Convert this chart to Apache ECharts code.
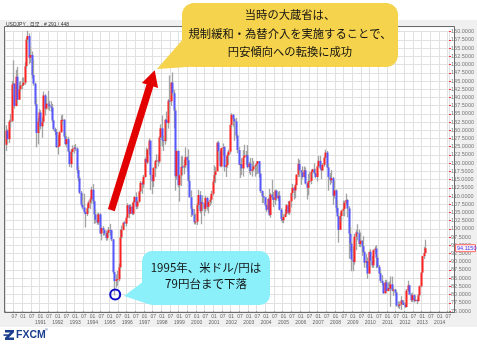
<!DOCTYPE html>
<html><head><meta charset="utf-8">
<script src="https://cdn.jsdelivr.net/npm/echarts@6/dist/echarts.min.js"></script>
<style>html,body{margin:0;padding:0;background:#fff}#wrap{position:relative;width:477px;height:345px}#c{width:477px;height:345px}
#hdr{position:absolute;left:6px;top:21px;font:5px 'Liberation Sans','Noto Sans CJK JP',sans-serif;color:#333;line-height:6px;white-space:nowrap;z-index:5}</style>
</head><body><div id="wrap"><div id="c"></div><div id="hdr"></div></div>
<script>
// ---- data: USD/JPY monthly, Jan 1989 .. Mar 2013 (291 bars) ----
const startYear = 1989;
const totalMonths = 307; // axis runs to mid 2014
const opens = [
125.6,129.9,127.3,132.6,132.9,143.9,144.2,137.4,146.3,139.3,142.5,143.6,
143.8,144.5,149.5,157.6,158.7,152.1,152.9,146.8,144.2,137.9,129.2,132.6,
135.4,131.2,132.6,140.6,136.6,138.1,137.8,137.3,136.9,133.0,130.4,129.5,
124.9,125.2,129.4,133.1,133.2,128.1,125.8,127.3,123.6,119.7,123.4,124.3,
124.7,124.4,117.9,115.4,111.0,107.4,106.5,105.1,104.5,106.3,108.0,109.0,
111.9,108.4,104.4,102.8,101.9,104.4,98.6,100.2,99.6,98.6,97.2,98.8,
99.7,99.6,96.8,86.8,84.1,84.6,84.7,88.3,97.4,99.7,101.9,101.6,
103.4,107.2,104.6,106.8,104.6,108.1,109.7,106.8,108.3,111.4,114.0,113.5,
115.8,121.2,120.2,124.1,126.8,116.4,114.5,118.5,120.6,120.8,120.5,127.8,
130.6,127.0,126.7,133.2,132.2,139.0,138.8,144.5,141.3,136.0,116.0,123.7,
113.3,116.3,118.9,118.8,119.3,121.8,120.9,114.6,109.6,106.1,104.3,102.1,
102.2,107.3,110.3,105.4,108.1,107.7,106.1,109.4,106.7,108.2,108.9,110.7,
114.4,116.4,117.5,126.2,123.6,119.1,124.6,124.9,118.8,119.4,122.4,123.5,
131.6,134.7,133.4,132.7,128.4,124.0,119.5,119.7,118.4,121.7,122.3,122.4,
118.8,119.9,117.6,118.1,119.0,119.3,119.8,120.6,116.8,111.5,110.0,109.6,
107.2,105.8,109.1,104.2,110.4,109.6,108.8,111.6,109.3,110.1,105.8,103.1,
102.6,103.6,104.6,107.2,104.9,108.4,110.9,112.5,111.7,113.3,116.5,119.8,
117.8,117.2,115.8,117.8,113.8,112.5,114.4,114.6,117.3,118.1,116.9,115.8,
119.0,120.7,118.4,117.8,119.5,121.7,123.2,118.7,115.8,114.8,115.4,110.1,
111.7,106.4,103.8,99.7,103.9,105.5,106.1,107.9,108.8,106.2,98.5,95.5,
90.7,89.9,97.6,98.9,98.6,95.4,96.4,94.7,93.0,89.7,90.2,86.4,
93.0,90.3,88.9,93.5,94.0,91.2,88.4,86.5,84.2,83.5,80.4,83.7,
81.1,82.0,81.8,83.1,81.2,81.5,80.6,76.7,76.6,77.0,78.2,77.6,
76.9,76.2,81.2,82.8,80.0,78.3,79.8,78.1,78.4,78.0,79.8,82.5,
86.7,91.7,92.6
];
const closes = [
129.9,127.3,132.6,132.9,143.9,144.2,137.4,146.3,139.3,142.5,143.6,143.8,
144.5,149.5,157.6,158.7,152.1,152.9,146.8,144.2,137.9,129.2,132.6,135.4,
131.2,132.6,140.6,136.6,138.1,137.8,137.3,136.9,133.0,130.4,129.5,124.9,
125.2,129.4,133.1,133.2,128.1,125.8,127.3,123.6,119.7,123.4,124.3,124.7,
124.4,117.9,115.4,111.0,107.4,106.5,105.1,104.5,106.3,108.0,109.0,111.9,
108.4,104.4,102.8,101.9,104.4,98.6,100.2,99.6,98.6,97.2,98.8,99.7,
99.6,96.8,86.8,84.1,84.6,84.7,88.3,97.4,99.7,101.9,101.6,103.4,
107.2,104.6,106.8,104.6,108.1,109.7,106.8,108.3,111.4,114.0,113.5,115.8,
121.2,120.2,124.1,126.8,116.4,114.5,118.5,120.6,120.8,120.5,127.8,130.6,
127.0,126.7,133.2,132.2,139.0,138.8,144.5,141.3,136.0,116.0,123.7,113.3,
116.3,118.9,118.8,119.3,121.8,120.9,114.6,109.6,106.1,104.3,102.1,102.2,
107.3,110.3,105.4,108.1,107.7,106.1,109.4,106.7,108.2,108.9,110.7,114.4,
116.4,117.5,126.2,123.6,119.1,124.6,124.9,118.8,119.4,122.4,123.5,131.6,
134.7,133.4,132.7,128.4,124.0,119.5,119.7,118.4,121.7,122.3,122.4,118.8,
119.9,117.6,118.1,119.0,119.3,119.8,120.6,116.8,111.5,110.0,109.6,107.2,
105.8,109.1,104.2,110.4,109.6,108.8,111.6,109.3,110.1,105.8,103.1,102.6,
103.6,104.6,107.2,104.9,108.4,110.9,112.5,111.7,113.3,116.5,119.8,117.8,
117.2,115.8,117.8,113.8,112.5,114.4,114.6,117.3,118.1,116.9,115.8,119.0,
120.7,118.4,117.8,119.5,121.7,123.2,118.7,115.8,114.8,115.4,110.1,111.7,
106.4,103.8,99.7,103.9,105.5,106.1,107.9,108.8,106.2,98.5,95.5,90.7,
89.9,97.6,98.9,98.6,95.4,96.4,94.7,93.0,89.7,90.2,86.4,93.0,
90.3,88.9,93.5,94.0,91.2,88.4,86.5,84.2,83.5,80.4,83.7,81.1,
82.0,81.8,83.1,81.2,81.5,80.6,76.7,76.6,77.0,78.2,77.6,76.9,
76.2,81.2,82.8,80.0,78.3,79.8,78.1,78.4,78.0,79.8,82.5,86.7,
91.7,92.6,94.115
];
const highs = [
131.5,130.3,133.2,135.0,145.0,151.3,144.3,148.4,149.3,144.7,145.0,146.0,
146.1,150.8,158.2,160.3,159.5,155.4,154.0,151.5,144.5,139.7,133.9,136.5,
136.1,133.9,141.8,141.0,140.0,142.0,139.0,138.8,138.0,133.3,130.8,130.3,
128.5,129.7,134.5,134.8,133.4,129.3,128.2,128.0,124.3,124.2,125.4,125.5,
125.8,124.8,119.2,116.1,111.5,110.6,110.7,105.6,107.5,108.6,109.6,112.8,
113.6,108.8,106.0,104.7,105.0,104.8,100.8,100.8,99.9,99.5,99.2,100.6,
101.5,99.5,96.9,87.0,86.1,87.2,89.4,99.9,101.0,101.9,102.4,104.1,
107.8,107.4,107.5,107.9,108.6,110.0,111.1,108.8,111.5,114.6,114.5,116.4,
121.7,124.7,124.4,127.5,127.1,116.5,118.8,121.0,122.7,122.6,128.2,131.8,
134.5,128.3,133.5,135.7,139.5,146.7,144.7,147.6,142.3,136.9,124.4,123.9,
116.7,122.1,122.1,121.0,124.8,122.2,124.2,116.3,111.7,107.0,106.0,104.6,
107.8,111.9,111.5,108.9,110.2,107.7,110.1,109.7,108.6,109.9,111.6,114.9,
119.3,118.8,126.5,126.8,124.2,124.7,126.0,125.2,122.1,122.9,124.1,131.8,
135.2,134.9,133.7,133.8,128.9,125.0,120.0,121.5,124.0,125.6,123.7,125.5,
120.4,121.6,121.6,120.6,119.5,120.3,120.6,120.5,117.2,111.7,110.9,109.8,
107.7,109.5,112.2,110.9,114.9,111.2,112.0,111.9,111.3,111.5,106.3,105.0,
104.4,106.0,107.5,108.4,108.6,111.0,113.7,112.8,113.8,116.6,121.4,121.0,
117.8,119.0,119.0,118.7,114.0,116.7,117.4,117.8,118.3,119.9,118.3,119.3,
122.2,122.2,118.5,120.0,122.0,124.1,123.7,119.8,117.0,117.9,115.8,114.6,
112.0,108.6,104.5,104.9,105.8,108.6,108.6,110.7,109.0,106.9,100.6,96.0,
94.6,98.5,99.7,101.4,99.8,98.9,96.5,97.8,93.4,92.3,91.3,93.1,
93.8,91.8,93.8,94.7,95.0,92.0,89.0,87.3,85.9,83.7,84.5,84.5,
83.7,84.0,85.5,85.5,82.2,81.7,81.1,77.9,77.9,79.5,78.3,78.3,
77.5,81.7,84.2,83.0,80.4,80.6,80.1,79.6,78.6,80.2,82.8,86.8,
91.8,94.5,96.7
];
const lows = [
123.7,125.9,126.1,130.8,132.5,140.6,136.6,137.3,138.1,139.3,141.7,142.5,
143.5,143.9,148.8,156.5,150.2,150.5,145.8,143.6,137.4,124.8,125.7,129.5,
130.3,127.7,132.1,134.5,136.3,136.3,135.9,135.6,132.5,129.8,128.5,124.6,
122.6,125.1,129.3,131.6,127.7,125.4,124.8,123.4,118.8,118.6,121.8,122.9,
123.7,116.9,114.5,110.6,107.0,105.9,104.6,100.4,103.9,104.8,106.0,107.7,
107.6,101.5,101.7,101.3,101.2,98.4,96.5,97.9,98.0,96.4,96.5,98.0,
98.0,96.2,86.3,79.75,82.1,82.7,84.0,87.8,96.9,99.5,100.5,100.8,
103.2,103.2,104.8,104.2,104.2,107.8,106.0,106.0,107.9,110.7,110.7,112.5,
115.6,119.8,119.7,122.4,111.8,110.6,112.7,115.8,118.3,119.0,119.9,125.0,
125.0,123.7,125.6,126.8,130.5,134.5,137.4,140.4,130.6,111.6,114.9,112.6,
108.3,113.0,116.3,116.6,118.5,117.5,114.4,109.5,103.6,104.0,101.4,101.3,
101.2,106.0,104.7,101.4,105.4,103.9,105.2,105.6,104.7,107.0,107.7,110.1,
113.5,114.0,117.6,120.9,118.8,118.7,122.2,117.4,115.8,118.6,119.9,122.8,
130.5,131.1,126.8,127.6,123.0,119.4,115.5,116.4,115.9,121.6,119.5,118.4,
116.9,116.4,115.9,117.5,115.9,116.5,116.8,115.6,110.9,107.8,107.8,106.7,
105.2,104.9,103.9,103.4,108.9,106.6,107.2,108.6,108.5,105.6,102.3,101.8,
101.7,103.5,103.9,104.4,104.2,106.5,109.7,108.9,109.3,113.2,115.7,115.8,
113.4,115.3,115.6,113.5,108.9,110.2,113.0,113.6,115.5,116.7,115.4,114.4,
118.6,118.0,115.1,117.6,118.9,121.3,118.5,111.6,113.4,113.9,107.3,109.2,
104.9,103.8,95.8,99.9,102.2,103.9,103.8,107.2,103.5,90.9,93.2,87.1,
87.1,89.1,93.5,96.5,94.5,94.4,91.8,92.7,88.2,88.0,84.8,86.3,
88.5,88.1,88.1,92.3,88.0,88.1,86.2,83.6,82.9,80.2,80.3,80.9,
81.0,81.5,76.3,81.0,79.6,79.7,76.3,75.9,75.6,75.3,76.9,76.8,
75.9,76.1,80.9,79.8,77.7,77.7,77.6,77.9,77.1,77.9,79.3,82.2,
86.5,90.8,92.6
];
const yMin = 75, yMax = 160, yStep = 2.5;
const lastPrice = 94.1150;
const firstDateLabel = '7.01.89';
const headerText = 'USDJPY , 月足 , # 291 / 448';
const noteTop = ['当時の大蔵省は、', '規制緩和・為替介入を実施することで、', '円安傾向への転換に成功'];
const noteLow = ['1995年、米ドル/円は', '79円台まで下落'];
// annotation anchors in data space: [month index, price]
const lowPoint = [75, 79.75];
const arrowFrom = [73, 105.7];
const arrowTo = [103, 148.3];

document.getElementById('hdr').textContent = headerText;

const months = [];
for (let i = 0; i < totalMonths; i++) {
  const y = startYear + Math.floor(i / 12), m = i % 12 + 1;
  months.push(y + '-' + (m < 10 ? '0' : '') + m);
}
const ohlc = opens.map((o, i) => [i, o, closes[i], lows[i], highs[i]]);

const chart = echarts.init(document.getElementById('c'), null, {renderer: 'canvas'});
const CJK = "'Noto Sans CJK JP', sans-serif";

function renderItem(params, api) {
  const i = api.value(0), o = api.value(1), c = api.value(2), l = api.value(3), h = api.value(4);
  const pH = api.coord([i, h]), pL = api.coord([i, l]), pO = api.coord([i, o]), pC = api.coord([i, c]);
  const x = Math.round(pH[0]);
  const top = Math.min(pO[1], pC[1]), bot = Math.max(pO[1], pC[1]);
  return {
    type: 'group',
    children: [
      {type: 'line', shape: {x1: x + 0.5, y1: pH[1], x2: x + 0.5, y2: pL[1]},
        style: {stroke: '#a3a3a3', lineWidth: 1.3}},
      {type: 'rect', shape: {x: x - 0.5, y: top, width: 2, height: Math.max(bot - top, 1)},
        style: {fill: c >= o ? '#ff2222' : '#5757ff'}}
    ]
  };
}

chart.setOption({
  animation: false,
  backgroundColor: '#ffffff',
  grid: {left: 5, right: 23, top: 31.7, bottom: 34, containLabel: false},
  xAxis: {
    type: 'category', data: months, boundaryGap: true,
    axisLine: {show: false},
    axisTick: {show: true, interval: (i) => i % 6 === 0, length: 2, lineStyle: {color: '#999'}},
    splitLine: {show: true, interval: (i) => i % 6 === 0, lineStyle: {color: '#e1e1e1', width: 1}},
    axisLabel: {
      interval: (i) => i % 6 === 0, fontSize: 5, color: '#666', margin: 3, lineHeight: 6,
      fontFamily: 'Liberation Sans',
      formatter: (v, i) => {
        if (i === 0) return ' \n' + firstDateLabel;
        const m = i % 12, y = startYear + Math.floor(i / 12);
        if (m === 6) return '07';
        if (y === 1990) return '01\n ';
        return '01\n' + y;
      }
    }
  },
  yAxis: {
    type: 'value', position: 'right', min: yMin, max: yMax, interval: yStep,
    axisLine: {show: false},
    axisTick: {show: true, length: 2, lineStyle: {color: '#ff3030'}},
    splitLine: {show: true, lineStyle: {color: '#e1e1e1', width: 1}},
    axisLabel: {fontSize: 5.5, color: '#777', margin: 2, fontFamily: 'Liberation Sans',
      formatter: (v) => v.toFixed(4)}
  },
  series: [{type: 'custom', renderItem: renderItem, data: ohlc, clip: false,
    encode: {x: 0, y: [1, 2, 3, 4]}, z: 5}]
});

// ---- annotations ----
const px = (p) => chart.convertToPixel({xAxisIndex: 0, yAxisIndex: 0}, p);
const low = px(lowPoint);
const aT = px(arrowFrom), aP = px(arrowTo);
const priceY = px([290, lastPrice])[1];

function arrowPoly(T, P, hw, HW, HL) {
  const dx = P[0] - T[0], dy = P[1] - T[1], L = Math.hypot(dx, dy);
  const ux = dx / L, uy = dy / L, nx = -uy, ny = ux;
  const B = [P[0] - ux * HL, P[1] - uy * HL];
  return [
    [T[0] + nx * hw, T[1] + ny * hw], [B[0] + nx * hw, B[1] + ny * hw], [B[0] + nx * HW, B[1] + ny * HW],
    P, [B[0] - nx * HW, B[1] - ny * HW], [B[0] - nx * hw, B[1] - ny * hw], [T[0] - nx * hw, T[1] - ny * hw]
  ];
}

const g = [
  {type: 'rect', z: -100, shape: {x: 0, y: 20, width: 477, height: 307}, style: {fill: '#f0f0f0'}},
  {type: 'rect', z: -99, shape: {x: 4.5, y: 27.5, width: 450, height: 285}, style: {fill: '#ffffff'}},
  {type: 'rect', z: 50, shape: {x: 4.5, y: 26.5, width: 450, height: 286}, style: {fill: null, stroke: '#6a6a6a', lineWidth: 1}},
  {type: 'rect', z: 60, shape: {x: 455.5, y: priceY - 3.5, width: 20, height: 7}, style: {fill: '#fff2f2', stroke: '#ff6a6a', lineWidth: 1}},
  {type: 'text', z: 61, x: 457, y: priceY, style: {text: lastPrice.toFixed(4), fontSize: 5.5, fill: '#3a3aff', verticalAlign: 'middle', fontFamily: 'Liberation Sans'}},
  // red arrow
  {type: 'polygon', z: 70, shape: {points: arrowPoly(aT, aP, 3.6, 8.5, 16)}, style: {fill: '#e20000'}},
  // blue circle at 1995 low
  {type: 'circle', z: 70, shape: {cx: low[0] + 1, cy: low[1] - 1, r: 5}, style: {fill: null, stroke: '#0a0ac8', lineWidth: 2}},
  // yellow callout
  {type: 'polygon', z: 80, shape: {points: [[184, 38], [202, 66], [157, 69]]}, style: {fill: '#f6d34c'}},
  {type: 'rect', z: 81, shape: {x: 182, y: 3, width: 216, height: 64, r: 12}, style: {fill: '#f6d34c'}},
  // cyan callout
  {type: 'polygon', z: 80, shape: {points: [[144, 281], [148, 304], [124, 296]]}, style: {fill: '#8cf0fb'}},
  {type: 'rect', z: 81, shape: {x: 142, y: 251, width: 128, height: 54, r: 10}, style: {fill: '#8cf0fb'}},
  // FXCM logo
  {type: 'polygon', z: 90, shape: {points: [[5, 330], [14, 330], [14, 332.3], [8.8, 337.5], [14, 337.5], [14, 340], [5, 340], [5, 337.7], [10.2, 332.5], [5, 332.5]]}, style: {fill: '#1d3f8f'}},
  {type: 'rect', z: 90, shape: {x: 3.5, y: 334.3, width: 7, height: 1.6}, style: {fill: '#1d3f8f'}},
  {type: 'text', z: 90, x: 16, y: 335.5, style: {text: 'FXCM', fontSize: 10.5, fontWeight: 'bold', fill: '#1d3f8f', verticalAlign: 'middle', fontFamily: 'Liberation Sans'}},
  {type: 'text', z: 90, x: 45, y: 330, style: {text: '®', fontSize: 4, fill: '#1d3f8f', verticalAlign: 'middle', fontFamily: 'Liberation Sans'}}
];
const topY = [15, 34, 52];
noteTop.forEach((t, k) => g.push({type: 'text', z: 90, x: 290, y: topY[k],
  style: {text: t, fontSize: 11.3, fill: '#111', align: 'center', verticalAlign: 'middle', fontFamily: CJK}}));
const lowY = [268, 284];
noteLow.forEach((t, k) => g.push({type: 'text', z: 90, x: 206, y: lowY[k],
  style: {text: t, fontSize: 11.5, fill: '#111', align: 'center', verticalAlign: 'middle', fontFamily: CJK}}));

chart.setOption({graphic: g});
</script></body></html>
